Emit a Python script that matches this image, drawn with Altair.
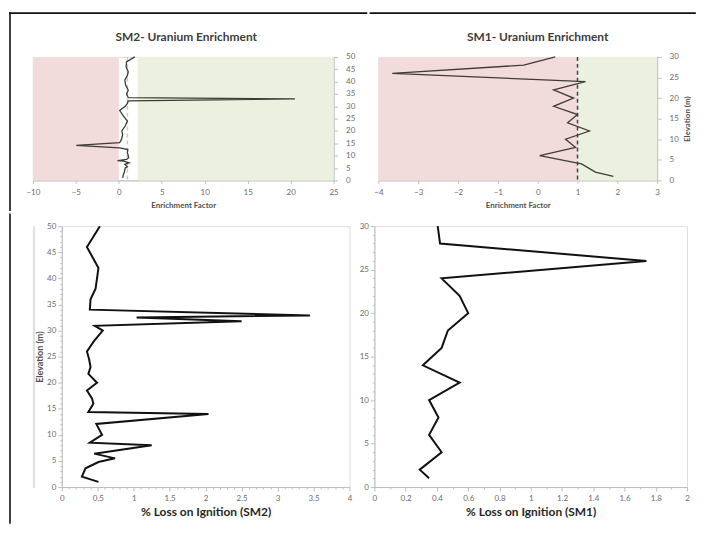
import json
import altair as alt
import pandas as pd

# ---------------- data ----------------
# SM2 enrichment factor profile
sm2_ef_elev = [1, 2, 3.5, 5, 5.5, 6.5, 7.1, 7.8, 8, 8.5, 9.2, 10, 11.2, 12.5, 13.2, 14.2, 15.3, 16.5, 18.5, 20,
               22, 24, 26, 28.3, 30, 31.2, 32.2, 33, 33.5, 35, 36.5, 38.5, 40.6, 42.5, 44, 46, 48, 50]
sm2_ef = [0.45, 0.5, 0.65, 0.75, 1.0, 0.7, 1.2, 0.55, -0.15, 0.9, 1.15, 1.1, 1.0, 1.05, 0.1, -4.95, 0.1, 0.3, 0.45, 0.35,
          0.75, 1.0, 0.55, 0.1, 0.75, 1.0, 1.1, 20.5, 1.1, 0.9, 1.1, 0.8, 0.7, 1.0, 1.1, 0.85, 0.9, 1.85]

# SM2 loss on ignition profile
sm2_loi_elev = [1, 2, 3.6, 4.8, 5.5, 6.4, 8, 8.5, 10, 12.1, 14, 14.4, 16, 17, 18.5, 20, 21.7, 23, 24.5, 26,
                28, 30, 30.9, 31.8, 32.5, 32.9, 34, 36, 38, 40, 42, 46, 50]
sm2_loi = [0.51, 0.28, 0.33, 0.51, 0.74, 0.45, 1.25, 0.39, 0.56, 0.48, 2.04, 0.37, 0.44, 0.42, 0.35, 0.49, 0.37, 0.40,
           0.38, 0.35, 0.45, 0.57, 0.46, 2.5, 1.04, 3.45, 0.39, 0.40, 0.47, 0.49, 0.51, 0.35, 0.53]

# SM1 profiles (samples every 2 m)
sm1_elev = [1, 2, 4, 6, 8, 10, 12, 14, 16, 18, 20, 22, 24, 26, 28, 30]
sm1_ef = [1.9, 1.45, 1.1, 0.05, 0.95, 0.7, 1.3, 0.75, 1.0, 0.4, 0.9, 0.4, 1.2, -3.65, -0.35, 0.44]
sm1_loi = [0.35, 0.29, 0.43, 0.35, 0.41, 0.35, 0.545, 0.31, 0.43, 0.47, 0.6, 0.545, 0.43, 1.74, 0.42, 0.405]

# background zones of the enrichment panels
zone_names = ["Depleted", "Enriched"]
zone_colors = ["#f2dcdb", "#ebf1de"]
sm2_zone_from = [-10, 2.2]
sm2_zone_to = [0, 25]
sm1_zone_from = [-4, 1]
sm1_zone_to = [1, 3]
reference_ef = [1]

# tick labels
sm2_ef_ticks = [-10, -5, 0, 5, 10, 15, 20, 25]
sm1_ef_ticks = [-4, -3, -2, -1, 0, 1, 2, 3]
sm2_elev_ticks = [0, 5, 10, 15, 20, 25, 30, 35, 40, 45, 50]
sm1_elev_ticks = [0, 5, 10, 15, 20, 25, 30]
loi2_ticks = [0, 0.5, 1, 1.5, 2, 2.5, 3, 3.5, 4]
loi1_ticks = [0, 0.2, 0.4, 0.6, 0.8, 1, 1.2, 1.4, 1.6, 1.8, 2]

# minor tick positions
loi2_minor = [round(i * 0.1, 1) for i in range(41)]
loi1_minor = [round(i * 0.1, 1) for i in range(21)]
sm2_elev_minor = list(range(51))
sm1_elev_minor = list(range(31))

# ---------------- style ----------------
FONT = "Lato"
LBL = "#6b6b6b"
AX = "#bdbdbd"
WA, HA = 302, 124
WB, HB = 280, 124
WC, HC = 289, 262
WD, HD = 314, 262


def is_major(major):
    return "indexof(%s, datum.value) >= 0" % json.dumps(major)


def minor_axis(values, major, **kw):
    test = is_major(major)
    return alt.Axis(values=values, labelExpr="%s ? format(datum.value, '~g') : ''" % test,
                    tickSize={"condition": {"test": test, "value": 4}, "value": 2},
                    labelFont=FONT, labelFontSize=8, labelColor=LBL, labelFlush=False, labelOverlap=False,
                    tickColor=AX, domainColor=AX, grid=False, **kw)


top_x = dict(labelFont=FONT, labelFontSize=8, labelColor=LBL, labelFlush=False, labelOverlap=False,
             labelPadding=5, tickSize=3, tickColor=AX, domainColor=AX, grid=False,
             titleFont=FONT, titleFontSize=8, titleFontWeight="bold", titleColor="#505050", titlePadding=5)
top_y = dict(orient="right", labelFont=FONT, labelFontSize=8, labelColor=LBL, labelPadding=8, tickSize=4,
             tickColor=AX, domainColor=AX, grid=False)

one = pd.DataFrame({"k": [0]})


def frame(x, y, x2=None, y2=None):
    enc = {"x": alt.value(x), "y": alt.value(y)}
    if x2 is not None:
        enc["x2"] = alt.value(x2)
    if y2 is not None:
        enc["y2"] = alt.value(y2)
    return alt.Chart(one).mark_rule(color="#111111", strokeWidth=1.6, strokeCap="square").encode(**enc)


def title_text(text, x):
    return alt.Chart(pd.DataFrame({"t": [text]})).mark_text(
        font=FONT, fontSize=12, fontWeight="bold", color="#3c3c3c", align="center", baseline="middle"
    ).encode(text="t:N", x=alt.value(x), y=alt.value(-20))


def ef_panel(elev, ef, zfrom, zto, xdom, xticks, ydom, yticks, W, H, title, title_x, ytitle, ref_color, frames):
    xs = alt.Scale(domain=xdom, nice=False, zero=False)
    ys = alt.Scale(domain=ydom, nice=False, zero=False)
    yaxis_kw = dict(top_y)
    if ytitle:
        yaxis_kw.update(title=ytitle, titleAngle=270, titleBaseline="top", titleFont=FONT, titleFontSize=8,
                        titleFontWeight="bold", titleColor="#505050", titlePadding=5)
    else:
        yaxis_kw.update(title=None)
    xax = alt.Axis(values=xticks, title="Enrichment Factor", **top_x)
    yax = alt.Axis(values=yticks, **yaxis_kw)
    zones = pd.DataFrame({"zone": zone_names, "x0": zfrom, "x1": zto,
                          "y0": [ydom[0]] * 2, "y1": [ydom[1]] * 2})
    bg = alt.Chart(zones).mark_rect().encode(
        x=alt.X("x0:Q", scale=xs, axis=xax), x2="x1:Q",
        y=alt.Y("y0:Q", scale=ys, axis=yax), y2="y1:Q",
        color=alt.Color("zone:N", scale=alt.Scale(domain=zone_names, range=zone_colors), legend=None))
    ref = alt.Chart(pd.DataFrame({"r": reference_ef})).mark_rule(
        color=ref_color, strokeDash=[4, 3], strokeWidth=1.5).encode(x=alt.X("r:Q", scale=xs, axis=xax))
    line = alt.Chart(pd.DataFrame({"elev": elev, "ef": ef})).mark_line(
        color="#3d3d36", strokeWidth=1.3).encode(
        x=alt.X("ef:Q", scale=xs, axis=xax),
        y=alt.Y("elev:Q", scale=ys, axis=yax),
        order=alt.Order("elev:Q"))
    return alt.layer(bg, ref, line, title_text(title, title_x), *frames).properties(width=W, height=H)


def loi_panel(elev, loi, xdom, xminor, xmajor, ydom, yminor, ymajor, W, H, xtitle, ytitle):
    xs = alt.Scale(domain=xdom, nice=False, zero=False)
    ys = alt.Scale(domain=ydom, nice=False, zero=False)
    ykw = dict(labelPadding=2)
    if ytitle:
        ykw.update(title=ytitle, titleFont=FONT, titleFontSize=9, titleFontWeight="bold", titleColor="#505050",
                   titlePadding=2)
    else:
        ykw.update(title=None)
    line = alt.Chart(pd.DataFrame({"elev": elev, "loi": loi})).mark_line(
        color="#111111", strokeWidth=2).encode(
        x=alt.X("loi:Q", scale=xs, axis=minor_axis(xminor, xmajor, title=xtitle, labelPadding=4, titleFont=FONT,
                                                     titleFontSize=12, titleFontWeight="bold", titleColor="#262626",
                                                     titlePadding=4)),
        y=alt.Y("elev:Q", scale=ys, axis=minor_axis(yminor, ymajor, **ykw)),
        order=alt.Order("elev:Q"))
    return line.properties(width=W, height=H)


A = ef_panel(sm2_ef_elev, sm2_ef, sm2_zone_from, sm2_zone_to, [-10, 25], sm2_ef_ticks, [0, 50], sm2_elev_ticks,
             WA, HA, "SM2- Uranium Enrichment", WA / 2 + 3, None, "#c9c9c9",
             [frame(-23, -44, y2=HA + 30), frame(-23, -44, x2=WA + 33)])
B = ef_panel(sm1_elev, sm1_ef, sm1_zone_from, sm1_zone_to, [-4, 3], sm1_ef_ticks, [0, 30], sm1_elev_ticks,
             WB, HB, "SM1- Uranium Enrichment", WB / 2 + 20, "Elevation (m)", "#444444",
             [frame(-8, -44, x2=WB + 38)])
C = loi_panel(sm2_loi_elev, sm2_loi, [0, 4], loi2_minor, loi2_ticks, [0, 50], sm2_elev_minor, sm2_elev_ticks,
              WC, HC, "% Loss on Ignition (SM2)", "Elevation (m)")
D = loi_panel(sm1_elev, sm1_loi, [0, 2], loi1_minor, loi1_ticks, [0, 30], sm1_elev_minor, sm1_elev_ticks,
              WD, HD, "% Loss on Ignition (SM1)", None)
# thin spacer column that carries the lower part of the figure frame
S = frame(-23, -12, y2=HC + 36).properties(width=1, height=HC)

top = alt.hconcat(A, B, spacing=0)
bottom = alt.hconcat(S, alt.hconcat(C, D, spacing=6), spacing=0)
chart = alt.concat(top, bottom, columns=1, spacing=0).properties(
    padding={"left": 0, "top": 2, "right": 0, "bottom": 0}
).configure_view(strokeWidth=0).configure(font=FONT)

chart.save("out.html", embed_options={"renderer": "svg", "actions": False})
